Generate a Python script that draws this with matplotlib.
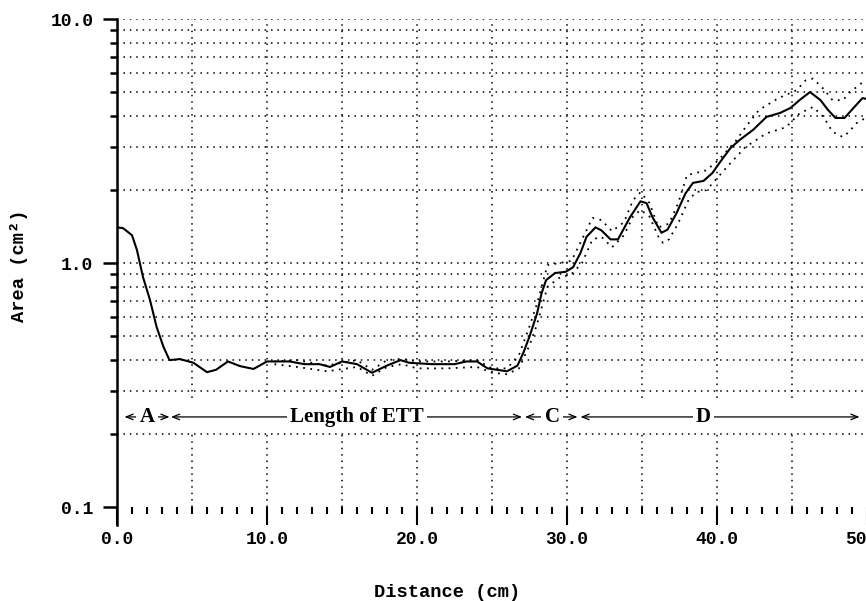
import matplotlib
matplotlib.use('Agg')
import matplotlib.pyplot as plt
from matplotlib.ticker import NullFormatter

# area profile (solid line)
dist = [0.0, 0.4, 1.0, 1.33, 1.73, 2.2, 2.64, 3.1, 3.5, 4.2, 5.1, 6.0, 6.6, 7.4, 8.2, 9.1,
        10.0, 11.5, 12.5, 13.5, 14.2, 15.0, 16.0, 17.0, 18.0, 18.9, 19.5, 21.0, 22.5, 23.3,
        24.0, 24.7, 26.0, 26.7, 27.1, 27.5, 28.0, 28.3, 28.6, 29.2, 29.9, 30.4, 30.9, 31.3,
        31.9, 32.3, 32.9, 33.4, 34.2, 34.9, 35.3, 35.7, 36.3, 36.7, 37.3, 37.9, 38.4, 39.1,
        39.7, 40.2, 40.9, 41.5, 42.4, 43.3, 44.2, 44.9, 45.5, 46.2, 46.9, 47.4, 47.9, 48.5,
        49.1, 49.7, 50.0]
area = [1.40, 1.39, 1.30, 1.13, 0.877, 0.705, 0.547, 0.453, 0.40, 0.404, 0.39, 0.357, 0.365,
        0.395, 0.378, 0.368, 0.395, 0.395, 0.385, 0.385, 0.375, 0.395, 0.385, 0.355, 0.38,
        0.40, 0.39, 0.385, 0.385, 0.395, 0.395, 0.37, 0.36, 0.38, 0.43, 0.50, 0.62, 0.75,
        0.85, 0.91, 0.92, 0.96, 1.10, 1.28, 1.40, 1.36, 1.25, 1.25, 1.54, 1.79, 1.76, 1.54,
        1.33, 1.37, 1.60, 1.93, 2.13, 2.17, 2.34, 2.59, 2.96, 3.19, 3.51, 3.97, 4.12, 4.32,
        4.65, 5.02, 4.65, 4.24, 3.93, 3.93, 4.32, 4.74, 4.70]

# upper / lower dotted bounds
up_x = [10.5, 12, 14, 16, 17, 18, 19, 20, 22, 24, 25, 26, 26.8, 27.5, 28, 28.7, 29.5, 30.3,
        31, 31.7, 32.3, 33, 33.8, 34.4, 34.9, 35.5, 36.1, 36.8, 37.4, 38.0, 39.3, 40.1, 41.3,
        41.9, 42.8, 44.1, 45.3, 45.9, 46.4, 47.1, 47.7, 48.4, 48.8, 49.7, 50]
up_y = [0.395, 0.40, 0.38, 0.40, 0.365, 0.40, 0.405, 0.395, 0.395, 0.40, 0.37, 0.37, 0.42,
        0.55, 0.68, 0.98, 1.0, 1.02, 1.25, 1.53, 1.50, 1.35, 1.47, 1.81, 1.95, 1.76, 1.40,
        1.45, 1.75, 2.29, 2.40, 2.64, 3.19, 3.6, 4.24, 4.74, 5.1, 5.6, 5.7, 5.17, 4.65, 4.65,
        4.97, 5.5, 5.6]
lo_x = [10.5, 12, 14, 16, 17, 18, 19, 20, 22, 24, 25, 26, 26.8, 27.5, 28, 28.7, 29.5, 30.3,
        31, 31.7, 32.3, 33, 33.8, 34.4, 34.9, 35.5, 36.1, 36.4, 36.8, 37.4, 38.1, 38.6, 39.3,
        40.6, 41.9, 43.3, 44.6, 45.5, 46.4, 47.1, 47.7, 48.4, 48.8, 49.3, 49.9]
lo_y = [0.385, 0.375, 0.36, 0.375, 0.345, 0.375, 0.385, 0.37, 0.37, 0.375, 0.355, 0.35, 0.37,
        0.46, 0.56, 0.80, 0.87, 0.90, 1.0, 1.25, 1.28, 1.16, 1.30, 1.55, 1.65, 1.55, 1.28,
        1.21, 1.25, 1.45, 1.81, 1.95, 1.99, 2.45, 2.99, 3.4, 3.6, 4.1, 4.36, 3.97, 3.45, 3.28,
        3.45, 3.74, 3.93]

# segment labels: (name, left end, text centre, right end)
segments = [('A', 0.5, 2.0, 3.5),
            ('Length of ETT', 3.6, 16.0, 27.0),
            ('C', 27.2, 29.0, 30.7),
            ('D', 30.9, 39.1, 49.5)]
seg_y = 0.234

x_major = [0, 10, 20, 30, 40, 50]
x_labels = ['0.0', '10.0', '20.0', '30.0', '40.0', '50.0']
x_minor = [v for v in range(1, 50) if v % 10]
x_grid = [5, 10, 15, 20, 25, 30, 35, 40, 45]
y_major = [0.1, 1, 10]
y_labels = ['0.1', '1.0', '10.0']
y_minor = [0.2, 0.3, 0.4, 0.5, 0.6, 0.7, 0.8, 0.9, 2, 3, 4, 5, 6, 7, 8, 9]
y_grid = y_minor + [1, 10]

mono = 'Liberation Mono'
serif = 'Liberation Serif'

fig = plt.figure(figsize=(8.66, 6.01), dpi=100)
ax = fig.add_axes([117 / 866, 1 - 525 / 601, 750 / 866, 506 / 601])
ax.set_yscale('log')
ax.set_xlim(0, 50)
ax.set_ylim(0.0844, 10)

# dotted grid
dots = (0, (1, 3.2))
ax.hlines(y_grid, 0, 50, colors='black', linestyles=dots, linewidth=1.1, zorder=1)
ax.vlines(x_grid, 0.1, 10, colors='black', linestyles=dots, linewidth=1.1, zorder=1)
ax.axhspan(0.205, 0.28, color='white', zorder=1.5, lw=0)

# curves
ax.plot(up_x, up_y, color='black', linestyle=(0, (1, 3)), linewidth=1.3, zorder=3)
ax.plot(lo_x, lo_y, color='black', linestyle=(0, (1, 3)), linewidth=1.3, zorder=3)
ax.plot(dist, area, color='black', linewidth=1.5, zorder=4)

# segment arrows
for name, x0, xc, x1 in segments:
    ax.annotate('', xy=(x1, seg_y), xytext=(x0, seg_y),
                arrowprops=dict(arrowstyle='<->,head_length=0.5,head_width=0.2',
                                color='black', lw=0.9, shrinkA=0, shrinkB=0), zorder=5)
    ax.text(xc, seg_y, name, ha='center', va='center', fontsize=15, fontweight='bold',
            family=serif, zorder=6,
            bbox=dict(boxstyle='square,pad=0.15', fc='white', ec='none'))

# axes styling
for s in ['top', 'right']:
    ax.spines[s].set_visible(False)
ax.spines['bottom'].set_position(('data', 0.1))
ax.spines['bottom'].set_visible(False)
ax.spines['left'].set_linewidth(1.8)

ax.set_xticks(x_major)
ax.set_xticklabels(x_labels)
ax.set_xticks(x_minor, minor=True)
ax.set_yticks(y_major)
ax.set_yticklabels(y_labels)
ax.set_yticks(y_minor, minor=True)
ax.yaxis.set_minor_formatter(NullFormatter())

ax.tick_params(axis='x', which='major', direction='out', length=13, width=1.5, pad=4,
               labelsize=13)
ax.tick_params(axis='x', which='minor', direction='out', length=5, width=1.5)
ax.tick_params(axis='y', which='major', direction='out', length=10, width=1.8, pad=7,
               labelsize=13)
ax.tick_params(axis='y', which='minor', direction='out', length=5, width=1.8)
for lab in ax.get_xticklabels() + ax.get_yticklabels():
    lab.set_family(mono)
    lab.set_fontweight('bold')

ax.set_xlabel('Distance (cm)', family=mono, fontweight='bold', fontsize=13.5, va='center')
ax.xaxis.set_label_coords(0.4406, -0.134)
ax.set_ylabel('Area (cm²)', family=mono, fontweight='bold', fontsize=13.5, va='center')
ax.yaxis.set_label_coords(-0.131, 0.512)

fig.savefig('out.png', dpi=100)
